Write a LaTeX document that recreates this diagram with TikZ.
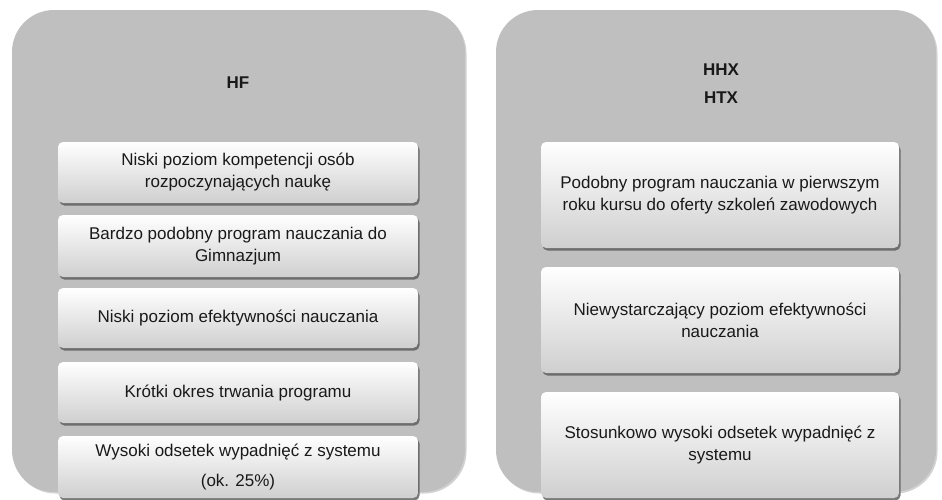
\documentclass[tikz,border=0pt]{standalone}
\usepackage{fontspec}
\setmainfont{Liberation Sans}
\usetikzlibrary{shadows}
\definecolor{contgray}{HTML}{BFBFBF}
\definecolor{boxbot}{HTML}{CFCFCF}
\tikzset{
  container/.style={fill=contgray, draw=none, rounded corners=42pt,
    drop shadow={shadow xshift=1.5pt, shadow yshift=-1.5pt, fill=black!35, opacity=0.5}},
  itembox/.style={draw=none, rounded corners=5pt, top color=white, bottom color=boxbot,
    shading angle=0, align=center, font=\fontsize{17}{22}\selectfont, text=black!90,
    drop shadow={shadow xshift=1.5pt, shadow yshift=-2.5pt, fill=black!65, opacity=0.8},
    inner sep=0pt},
  heading/.style={font=\bfseries\fontsize{17}{28}\selectfont, text=black!90, align=center}
}
\begin{document}
\begin{tikzpicture}[x=1pt,y=-1pt]
\useasboundingbox (0,0) rectangle (942,499);
\begin{scope}
\clip (0,0) rectangle (942,499);
% containers
\path[container] (12,10) rectangle (465,492);
\path[container] (496,10) rectangle (936,492);
\node[heading] (hf) at (238,83) {HF};
\node[heading] (hhx) at (721,84) {HHX\\HTX};
% left boxes
\node[itembox, minimum width=360pt, minimum height=61pt] (l1) at (238,172.5)
  {Niski poziom kompetencji osób\\rozpoczynających naukę};
\node[itembox, minimum width=360pt, minimum height=62pt] (l2) at (238,246)
  {Bardzo podobny program nauczania do\\Gimnazjum};
\node[itembox, minimum width=360pt, minimum height=60pt] (l3) at (238,318)
  {Niski poziom efektywności nauczania};
\node[itembox, minimum width=360pt, minimum height=61pt] (l4) at (238,392.5)
  {Krótki okres trwania programu};
\node[itembox, minimum width=360pt, minimum height=62pt,
  font=\fontsize{17}{30}\selectfont] (l5) at (238,467)
  {Wysoki odsetek wypadnięć z systemu\\(ok. 25\%)};
% right boxes
\node[itembox, minimum width=358pt, minimum height=106pt] (r1) at (720,195)
  {Podobny program nauczania w pierwszym\\roku kursu do oferty szkoleń zawodowych};
\node[itembox, minimum width=358pt, minimum height=106pt] (r2) at (720,320)
  {Niewystarczający poziom efektywności\\nauczania};
\node[itembox, minimum width=358pt, minimum height=106pt] (r3) at (720,445)
  {Stosunkowo wysoki odsetek wypadnięć z\\systemu};
\end{scope}
\end{tikzpicture}
\end{document}
